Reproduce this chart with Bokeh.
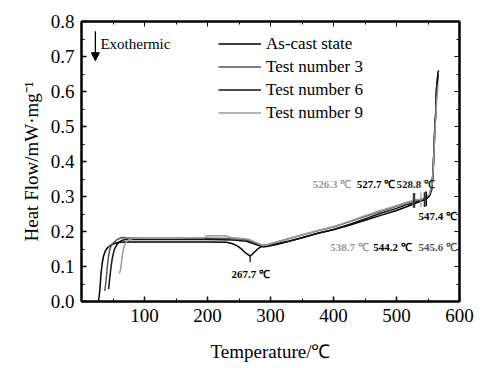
from bokeh.plotting import figure
from bokeh.models import (Range1d, LinearAxis, Legend, LegendItem, Arrow, NormalHead,
                          Label, FixedTicker, PrintfTickFormatter, CustomJSTickFormatter)
from bokeh.embed import file_html
from bokeh.resources import INLINE

# ---------------- data ----------------
x_ascast = [27, 29, 31, 33, 35, 38, 42, 46, 50, 55, 60, 80, 120, 160, 200, 230, 240, 248, 255, 261,
            265, 267.7, 270, 275, 281, 287, 295, 310, 330, 350, 375, 400, 425, 450, 475, 500, 515,
            526, 535, 545, 552, 556, 558, 560, 561, 562, 563, 565, 566, 567]
y_ascast = [0.0, 0.03, 0.08, 0.11, 0.13, 0.145, 0.155, 0.16, 0.164, 0.167, 0.169, 0.170, 0.170, 0.170,
            0.170, 0.169, 0.165, 0.158, 0.148, 0.138, 0.133, 0.130, 0.133, 0.142, 0.152, 0.158, 0.160,
            0.165, 0.173, 0.182, 0.195, 0.205, 0.218, 0.232, 0.246, 0.260, 0.270, 0.278, 0.284, 0.291,
            0.30, 0.32, 0.36, 0.45, 0.52, 0.525, 0.60, 0.64, 0.655, 0.66]

x_test3 = [37, 39, 41, 43, 45, 48, 52, 56, 60, 65, 70, 100, 150, 200, 240, 260, 275, 285, 295, 310,
           330, 350, 375, 400, 425, 450, 475, 500, 515, 526.3, 535, 545, 552, 556, 558, 560, 562, 564, 566]
y_test3 = [0.03, 0.06, 0.10, 0.13, 0.15, 0.162, 0.17, 0.176, 0.18, 0.183, 0.182, 0.181, 0.181, 0.181,
           0.18, 0.177, 0.168, 0.16, 0.162, 0.17, 0.18, 0.19, 0.202, 0.213, 0.228, 0.243, 0.258, 0.272,
           0.281, 0.287, 0.29, 0.295, 0.305, 0.33, 0.37, 0.46, 0.53, 0.60, 0.645]

x_test6 = [43, 45, 47, 49, 52, 56, 60, 65, 70, 100, 150, 200, 240, 262, 278, 288, 296, 310, 330, 350,
           375, 400, 425, 450, 475, 500, 515, 528.8, 538, 547.4, 553, 556, 558, 560, 562, 564, 566]
y_test6 = [0.035, 0.07, 0.10, 0.125, 0.148, 0.162, 0.17, 0.175, 0.177, 0.177, 0.177, 0.177, 0.176, 0.172,
           0.162, 0.156, 0.158, 0.163, 0.172, 0.182, 0.195, 0.206, 0.22, 0.236, 0.252, 0.266, 0.276,
           0.283, 0.288, 0.293, 0.305, 0.33, 0.37, 0.46, 0.53, 0.61, 0.65]

x_test9 = [60, 62, 64, 66, 68, 71, 75, 80, 85, 100, 150, 195, 200, 215, 230, 238, 250, 265, 278, 288,
           296, 310, 330, 350, 375, 400, 425, 450, 475, 500, 515, 527, 538.7, 545, 552, 556, 558, 560,
           562, 564, 566]
y_test9 = [0.08, 0.09, 0.12, 0.145, 0.16, 0.17, 0.176, 0.18, 0.181, 0.181, 0.181, 0.182, 0.188, 0.188,
           0.187, 0.182, 0.181, 0.178, 0.168, 0.16, 0.162, 0.17, 0.18, 0.19, 0.203, 0.214, 0.229, 0.245,
           0.26, 0.274, 0.283, 0.289, 0.292, 0.296, 0.305, 0.33, 0.37, 0.45, 0.52, 0.58, 0.62]

series_names = ["As-cast state", "Test number 3", "Test number 6", "Test number 9"]
series_colors = ["#000000", "#555555", "#111111", "#9a9a9a"]

# characteristic temperatures (peak markers)
peak_temps = [526.3, 527.7, 528.8, 538.7, 544.2, 545.6, 547.4]
peak_colors = ["#9a9a9a", "#000000", "#333333", "#9a9a9a", "#000000", "#555555", "#000000"]
peak_lo = [0.268, 0.268, 0.268, 0.27, 0.27, 0.272, 0.272]
peak_hi = [0.31, 0.31, 0.31, 0.312, 0.312, 0.314, 0.314]
dip_temp = 267.7

x_ticks = [100, 200, 300, 400, 500, 600]
x_minor = [50, 150, 250, 350, 450, 550]
y_ticks = [0.0, 0.1, 0.2, 0.3, 0.4, 0.5, 0.6, 0.7, 0.8]
y_minor = [0.05, 0.15, 0.25, 0.35, 0.45, 0.55, 0.65, 0.75]

FONT = "Liberation Serif, serif"

p = figure(frame_width=378, frame_height=280, min_border_left=81, min_border_right=15,
           min_border_top=21, min_border_bottom=59,
           x_range=Range1d(0, 600), y_range=Range1d(0, 0.8),
           output_backend="svg", toolbar_location=None,
           x_axis_label="Temperature/\u2103", y_axis_label="Heat Flow/mW\u00b7mg\u207b\u00b9")
p.grid.visible = False
p.outline_line_color = "black"
p.outline_line_width = 2
p.background_fill_color = "white"
p.border_fill_color = "white"

p.xaxis.ticker = FixedTicker(ticks=x_ticks, minor_ticks=x_minor)
p.yaxis.ticker = FixedTicker(ticks=y_ticks, minor_ticks=y_minor)
p.yaxis.formatter = PrintfTickFormatter(format="%.1f")
for ax in (p.xaxis[0], p.yaxis[0]):
    ax.major_tick_in = 5
    ax.major_tick_out = 0
    ax.minor_tick_in = 3
    ax.minor_tick_out = 0
    ax.axis_line_width = 2
    ax.major_tick_line_width = 1.5
    ax.major_label_text_font = FONT
    ax.major_label_text_font_size = "19px"
    ax.major_label_text_color = "black"
    ax.axis_label_text_font = FONT
    ax.axis_label_text_font_size = "19px"
    ax.axis_label_text_font_style = "normal"
    ax.axis_label_text_color = "black"
    ax.major_label_standoff = 7
p.xaxis.axis_label_standoff = 16
p.yaxis.axis_label_standoff = 6

blank = CustomJSTickFormatter(code="return ''")
ax_r = LinearAxis(ticker=FixedTicker(ticks=y_ticks, minor_ticks=y_minor), formatter=blank,
                  major_tick_in=5, major_tick_out=0, minor_tick_in=3, minor_tick_out=0,
                  axis_line_width=2, major_label_text_font_size="1px", major_label_standoff=0)
ax_t = LinearAxis(ticker=FixedTicker(ticks=x_ticks, minor_ticks=x_minor), formatter=blank,
                  major_tick_in=5, major_tick_out=0, minor_tick_in=3, minor_tick_out=0,
                  axis_line_width=2, major_label_text_font_size="1px", major_label_standoff=0)
p.add_layout(ax_r, "right")
p.add_layout(ax_t, "above")

xs = [x_ascast, x_test3, x_test6, x_test9]
ys = [y_ascast, y_test3, y_test6, y_test9]
renderers = []
for x, y, c in zip(xs, ys, series_colors):
    renderers.append(p.line(x, y, line_color=c, line_width=1.5))

# peak markers
p.segment(x0=peak_temps, y0=peak_lo, x1=peak_temps, y1=peak_hi, line_color=peak_colors, line_width=1.2)
p.segment(x0=[dip_temp], y0=[0.113], x1=[dip_temp], y1=[0.133], line_color="black", line_width=1.2)

legend = Legend(items=[LegendItem(label=n, renderers=[r]) for n, r in zip(series_names, renderers)],
                location=(137, 177), background_fill_alpha=0, border_line_alpha=0,
                padding=0, margin=0, spacing=0, glyph_width=43, glyph_height=23,
                label_height=23, label_standoff=5, label_text_font=FONT,
                label_text_font_size="17px", label_text_color="black")
p.add_layout(legend)

# exothermic arrow
p.add_layout(Arrow(end=NormalHead(size=8, fill_color="black", line_color="black"),
                   x_start=22, y_start=0.772, x_end=22, y_end=0.688, line_width=1.3))
p.add_layout(Label(x=30, y=0.737, text="Exothermic", text_font=FONT, text_font_size="15px",
                   text_baseline="middle", text_align="left", text_color="black"))

# temperature annotations
annos = [
    ("526.3 \u2103", 367, 0.337, "#9a9a9a"),
    ("527.7 \u2103", 437, 0.337, "#000000"),
    ("528.8 \u2103", 500, 0.337, "#222222"),
    ("547.4 \u2103", 535, 0.243, "#000000"),
    ("538.7 \u2103", 395, 0.157, "#9a9a9a"),
    ("544.2 \u2103", 463, 0.157, "#000000"),
    ("545.6 \u2103", 535, 0.157, "#555555"),
    ("267.7 \u2103", 238, 0.08, "#000000"),
]
for t, x, y, c in annos:
    p.add_layout(Label(x=x, y=y, text=t, text_font=FONT, text_font_size="11px",
                       text_font_style="bold", text_baseline="middle", text_align="left",
                       text_color=c))

open("out.html", "w").write(file_html(p, INLINE))
